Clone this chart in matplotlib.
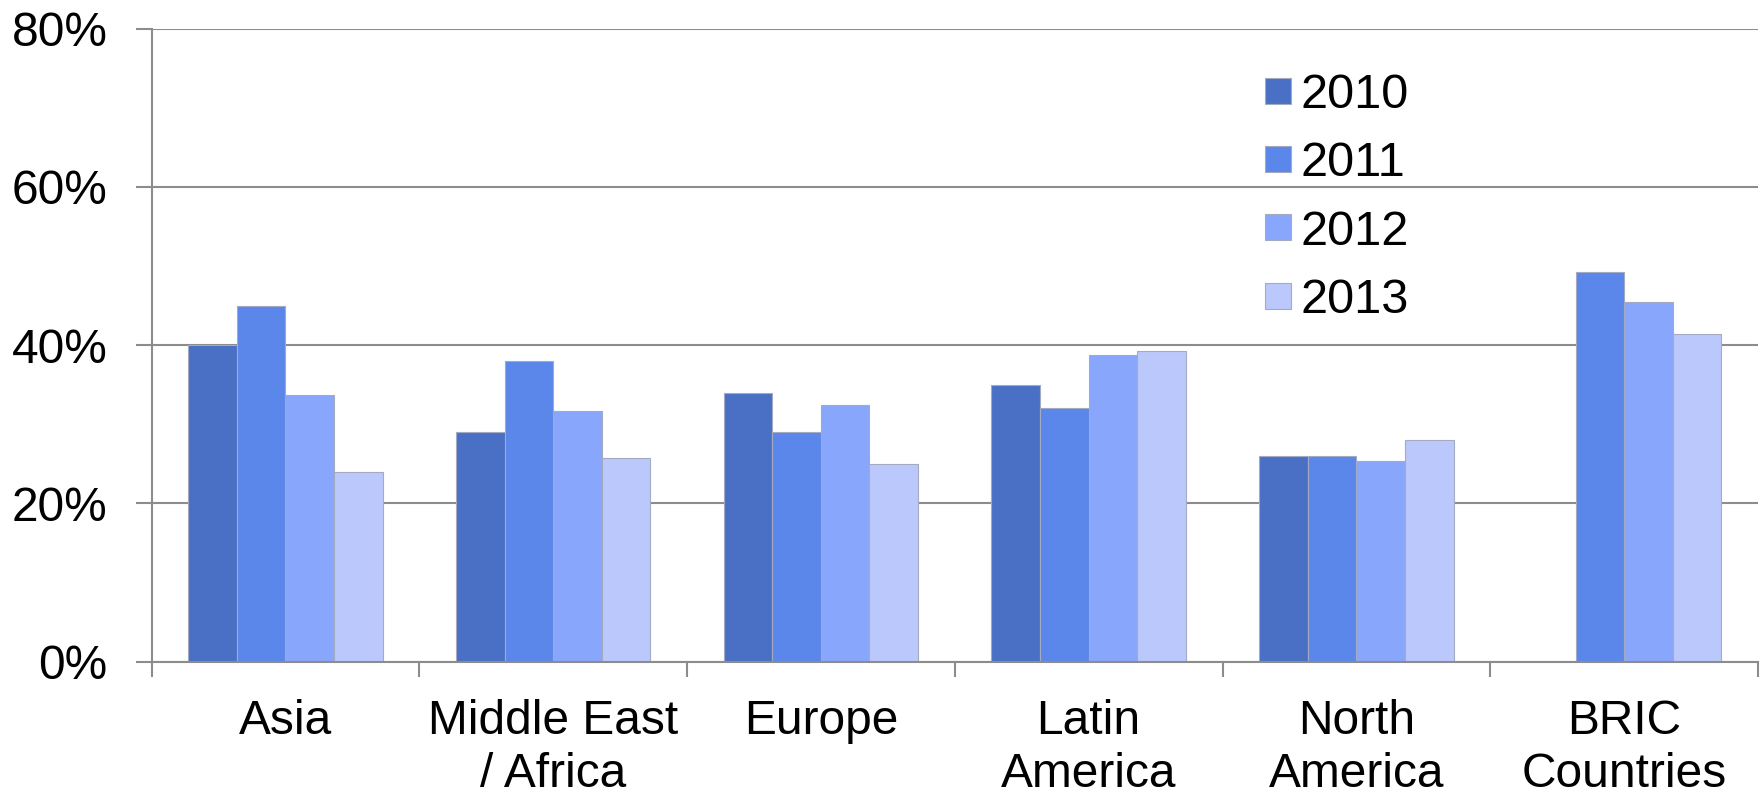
import matplotlib
matplotlib.use("Agg")
import matplotlib.pyplot as plt
import numpy as np
from matplotlib.ticker import FixedLocator, PercentFormatter

plt.rcParams['font.family'] = ['Liberation Sans', 'DejaVu Sans']

regions = ["Asia", "Middle East\n/ Africa", "Europe", "Latin\nAmerica",
           "North\nAmerica", "BRIC\nCountries"]
years = ["2010", "2011", "2012", "2013"]
share_2010 = [40.0, 29.0, 34.0, 35.0, 26.0, np.nan]
share_2011 = [45.0, 38.0, 29.0, 32.0, 26.0, 49.2]
share_2012 = [33.7, 31.7, 32.5, 38.7, 25.4, 45.5]
share_2013 = [24.0, 25.7, 25.0, 39.3, 28.0, 41.4]
colors = ["#4A70C6", "#5B86EA", "#88A6FC", "#BBC8FB"]

series = [share_2010, share_2011, share_2012, share_2013]

fig = plt.figure(figsize=(17.64, 7.94), dpi=100)
ax = fig.add_axes([0.0859, 0.1666, 0.9966 - 0.0859, 0.9639 - 0.1666])

n = len(regions)
x = np.arange(n)
bar_w = 0.1815
offsets = (np.arange(len(years)) - 1.5) * bar_w
for vals, off, col, yr in zip(series, offsets, colors, years):
    ax.bar(x + off, vals, width=bar_w, color=col, edgecolor="#A3AAC2",
           linewidth=0.8, label=yr, zorder=3)

ax.set_xlim(-0.5, n - 0.5)
ax.set_ylim(0, 80)
ax.yaxis.set_major_locator(FixedLocator([0, 20, 40, 60, 80]))
ax.yaxis.set_major_formatter(PercentFormatter(decimals=0))
ax.grid(axis="y", color="#8C8C8C", linewidth=1.5, zorder=0)

# category labels centred, ticks on the category boundaries
ax.set_xticks(np.arange(-0.5, n, 1.0))
ax.set_xticklabels([])
ax.set_xticks(x, minor=True)
ax.set_xticklabels(regions, minor=True, fontsize=34.5, linespacing=1.22)
ax.tick_params(axis="x", which="minor", length=0, pad=27)
ax.tick_params(axis="x", which="major", length=11, width=1.5,
               color="#8C8C8C", direction="out")
ax.tick_params(axis="y", length=11.5, width=1.5, color="#8C8C8C",
               direction="out", labelsize=34.5, pad=20)

for side in ("top", "right"):
    ax.spines[side].set_visible(False)
for side in ("left", "bottom"):
    ax.spines[side].set_color("#8C8C8C")
    ax.spines[side].set_linewidth(1.5)
ax.spines["bottom"].set_zorder(4)

fig.legend(loc="upper left", bbox_to_anchor=(1265 / 1764, 1 - 73 / 794),
           frameon=False, fontsize=35, borderpad=0, borderaxespad=0,
           handlelength=0.53, handleheight=0.44, handletextpad=0.2,
           labelspacing=0.48)

fig.savefig("out.png", dpi=100, facecolor="white")
